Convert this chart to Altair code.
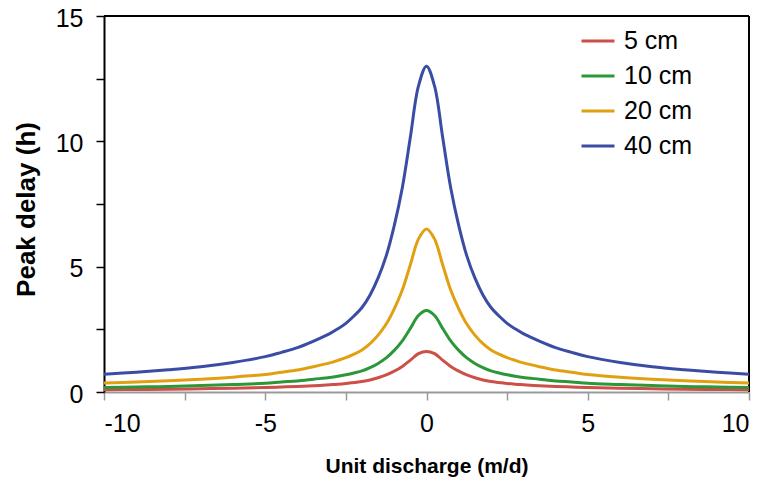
import altair as alt
import pandas as pd

# Unit discharge (m/d)
X = [-10, -9, -8, -7, -6, -5, -4.5, -4, -3.5, -3, -2.75, -2.5, -2.25, -2, -1.75, -1.5, -1.25, -1, -0.75, -0.5, -0.25,
     0,
     0.25, 0.5, 0.75, 1, 1.25, 1.5, 1.75, 2, 2.25, 2.5, 2.75, 3, 3.5, 4, 4.5, 5, 6, 7, 8, 9, 10]

# Peak delay (h) per layer thickness
Y5 = [0.09, 0.10, 0.11, 0.13, 0.15, 0.18, 0.20, 0.22, 0.25, 0.29, 0.31, 0.34, 0.38, 0.42, 0.48, 0.57, 0.68, 0.83, 1.02, 1.27, 1.53,
      1.62,
      1.53, 1.27, 1.02, 0.83, 0.68, 0.57, 0.48, 0.42, 0.38, 0.34, 0.31, 0.29, 0.25, 0.22, 0.20, 0.18, 0.15, 0.13, 0.11, 0.10, 0.09]
Y10 = [0.18, 0.20, 0.22, 0.255, 0.30, 0.35, 0.40, 0.44, 0.51, 0.58, 0.63, 0.69, 0.76, 0.84, 0.97, 1.14, 1.36, 1.66, 2.04, 2.54, 3.05,
       3.25,
       3.05, 2.54, 2.04, 1.66, 1.36, 1.14, 0.97, 0.84, 0.76, 0.69, 0.63, 0.58, 0.51, 0.44, 0.40, 0.35, 0.30, 0.255, 0.22, 0.20, 0.18]
Y20 = [0.36, 0.40, 0.45, 0.51, 0.59, 0.70, 0.79, 0.88, 1.01, 1.16, 1.26, 1.37, 1.51, 1.68, 1.93, 2.27, 2.71, 3.32, 4.07, 5.08, 6.10,
       6.50,
       6.10, 5.08, 4.07, 3.32, 2.71, 2.27, 1.93, 1.68, 1.51, 1.37, 1.26, 1.16, 1.01, 0.88, 0.79, 0.70, 0.59, 0.51, 0.45, 0.40, 0.36]
Y40 = [0.71, 0.79, 0.89, 1.01, 1.18, 1.41, 1.58, 1.77, 2.03, 2.33, 2.52, 2.74, 3.03, 3.37, 3.87, 4.55, 5.43, 6.64, 8.15, 10.17, 12.20,
       13.00,
       12.20, 10.17, 8.15, 6.64, 5.43, 4.55, 3.87, 3.37, 3.03, 2.74, 2.52, 2.33, 2.03, 1.77, 1.58, 1.41, 1.18, 1.01, 0.89, 0.79, 0.71]

SERIES = ["5 cm", "10 cm", "20 cm", "40 cm"]
COLORS = ["#cc4f48", "#2b9739", "#e0a010", "#3a4ca4"]

X_TICKS = [-10, -7.5, -5, -2.5, 0, 2.5, 5, 7.5, 10]
Y_TICKS = [0, 2.5, 5, 7.5, 10, 12.5, 15]

rows = []
for name, ys in zip(SERIES, [Y5, Y10, Y20, Y40]):
    for xv, yv in zip(X, ys):
        rows.append({"q": xv, "delay": yv, "series": name})
df = pd.DataFrame(rows)

FONT = "Liberation Sans"
x_scale = alt.Scale(domain=[-10, 10], nice=False, zero=False)
y_scale = alt.Scale(domain=[0, 15], nice=False, zero=False)

x_axis = alt.Axis(
    title="Unit discharge (m/d)", values=X_TICKS,
    labelExpr="datum.value % 5 == 0 ? toString(datum.value) : ''",
    grid=False, domainColor="#9a9a9a", domainWidth=2, tickColor="#9a9a9a", tickWidth=1.5,
    tickSize=8, labelPadding=11, labelFontSize=25, labelFont=FONT, labelColor="black",
    titleFont=FONT, titleFontSize=21, titleFontWeight="bold", titleColor="black",
    titleX=322.5, titleY=74, titleBaseline="middle", titleAlign="center",
)
y_axis = alt.Axis(
    title="Peak delay (h)", values=Y_TICKS,
    labelExpr="datum.value % 5 == 0 ? toString(datum.value) : ''",
    grid=False, domainColor="black", domainWidth=2, tickColor="black", tickWidth=1.5,
    tickSize=8, labelPadding=13, labelFontSize=25, labelFont=FONT, labelColor="black",
    labelOffset=2,
    titleFont=FONT, titleFontSize=26, titleFontWeight="bold", titleColor="black",
    titleX=-78, titleY=193, titleAngle=-90, titleBaseline="middle", titleAlign="center",
)

lines = alt.Chart(df).mark_line(strokeWidth=3, interpolate="catmull-rom").encode(
    x=alt.X("q:Q", scale=x_scale, axis=x_axis),
    y=alt.Y("delay:Q", scale=y_scale, axis=y_axis),
    color=alt.Color(
        "series:N",
        scale=alt.Scale(domain=SERIES, range=COLORS),
        sort=SERIES,
        legend=alt.Legend(
            title=None, orient="none", legendX=476, legendY=7,
            symbolType="stroke", symbolSize=1089, symbolStrokeWidth=3,
            labelFontSize=25, labelFont=FONT, labelColor="black", labelOffset=8,
            rowPadding=4, padding=0,
            labelExpr="datum.label == '5 cm' ? '\u00a0\u00a05 cm' : datum.label",
        ),
    ),
    detail="series:N",
)

one = alt.Data(values=[{}])
top_rule = alt.Chart(one).mark_rule(color="black", strokeWidth=2).encode(y=alt.datum(15, type="quantitative"))
right_rule = alt.Chart(one).mark_rule(color="black", strokeWidth=2).encode(x=alt.datum(10, type="quantitative"))

chart = alt.layer(top_rule, right_rule, lines).properties(
    width=645, height=376,
    padding={"left": 96, "top": 8, "right": 6, "bottom": 86},
    autosize=alt.AutoSizeParams(type="none"),
).configure_view(stroke=None).configure(font=FONT)

chart.save("out.html", embed_options={"renderer": "svg", "actions": False})
